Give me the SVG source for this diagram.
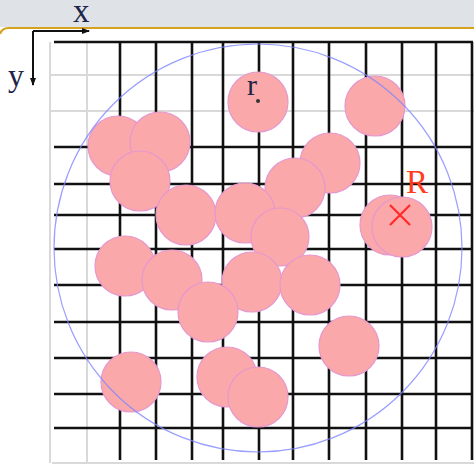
<svg xmlns="http://www.w3.org/2000/svg" width="474" height="468" viewBox="0 0 474 468">
<defs>
<style>
.g{stroke:#d9d9d9;stroke-width:2;fill:none}
.k{stroke:#111;stroke-width:2.6;fill:none}
.c{fill:#faa8a9;stroke:#e598cf;stroke-width:1.2}
.ax{stroke:#111;stroke-width:2;fill:none}
.lbl{font-family:"Liberation Serif","Times New Roman",serif}
</style>
<marker id="ah" viewBox="0 0 8 8" refX="7" refY="4" markerWidth="4" markerHeight="4" orient="auto" markerUnits="strokeWidth">
<path d="M0,1 L8,4 L0,7 Z" fill="#111"/>
</marker>
</defs>
<rect x="0" y="0" width="474" height="468" fill="#ffffff"/>
<rect x="0" y="0" width="474" height="27" fill="#dfe2e6"/>
<path d="M0,34 Q2,28 9,28 L474,28" stroke="#d6a21e" stroke-width="2.2" fill="none"/>
<text class="lbl" x="73" y="22" font-size="33" fill="#1e2448">x</text>
<text class="lbl" x="8" y="86" font-size="32" fill="#1e2448">y</text>
<g id="connectors">
<path class="ax" d="M33,31 L89,31" marker-end="url(#ah)"/>
<path class="ax" d="M33,31 L33,85" marker-end="url(#ah)"/>
</g>
<g id="grid">
<path class="g" d="M50,42V463M87,42V463M50,75H474M50,111H474M52,463H474"/>
<path class="k" d="M54,42H473M54,147H473M54,184H473M54,215H473M54,249H473M54,285H473M54,322H473M54,358H473M54,394H473M54,428H473"/>
<path class="k" d="M120,42V460M156,42V460M192,42V460M223,42V460M259,42V460M293,42V460M329,42V460M366,42V460M402,42V460M436,42V460M472,42V460"/>
</g>
<g id="c1"><circle class="c" cx="118" cy="146" r="30"/></g>
<g id="c2"><circle class="c" cx="160" cy="142" r="30"/></g>
<g id="c3"><circle class="c" cx="140" cy="181" r="30"/></g>
<g id="c4"><circle class="c" cx="258" cy="102" r="30"/><text class="lbl" x="247" y="95" font-size="30" fill="#1e2448">r</text><circle cx="258" cy="101" r="2" fill="#333"/></g>
<g id="c5"><circle class="c" cx="375" cy="106" r="30"/></g>
<g id="c6"><circle class="c" cx="330" cy="163" r="30"/></g>
<g id="c7"><circle class="c" cx="295" cy="188" r="30"/></g>
<g id="c8"><circle class="c" cx="186" cy="215" r="30"/></g>
<g id="c9"><circle class="c" cx="245" cy="213" r="30"/></g>
<g id="c10"><circle class="c" cx="280" cy="237" r="29"/></g>
<g id="c11"><circle class="c" cx="390" cy="225" r="30"/></g>
<g id="c12"><circle class="c" cx="402" cy="227" r="30"/></g>
<g id="c13"><circle class="c" cx="125" cy="266" r="30"/></g>
<g id="c14"><circle class="c" cx="172" cy="280" r="30"/></g>
<g id="c15"><circle class="c" cx="252" cy="282" r="30"/></g>
<g id="c16"><circle class="c" cx="310" cy="285" r="30"/></g>
<g id="c17"><circle class="c" cx="208" cy="312" r="30"/></g>
<g id="c18"><circle class="c" cx="349" cy="346" r="30"/></g>
<g id="c19"><circle class="c" cx="131" cy="382" r="30"/></g>
<g id="c20"><circle class="c" cx="227" cy="377" r="30"/></g>
<g id="c21"><circle class="c" cx="258" cy="397" r="30"/></g>
<g id="range"><circle cx="258" cy="248" r="204" fill="none" stroke="#7f86ff" stroke-width="1.2" stroke-opacity="0.8"/></g>
<g id="target">
<path d="M390,205L410,225M410,205L390,225" stroke="#ff2a2a" stroke-width="2.2" fill="none"/>
<text class="lbl" x="406" y="193" font-size="33" fill="#ff3c1e">R</text>
</g>
</svg>
